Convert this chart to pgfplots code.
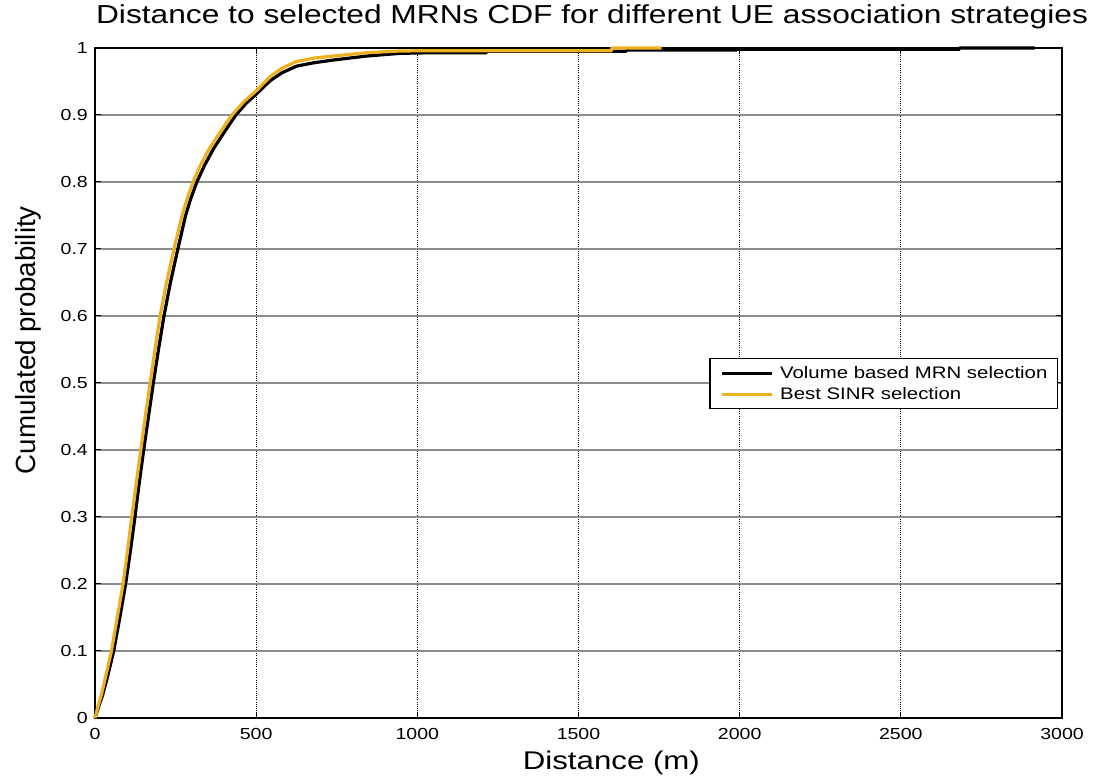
\documentclass[border=0pt]{standalone}
\usepackage{fontspec}
\setmainfont[FakeStretch=1.22]{Liberation Sans}
\newfontfamily\rotsans{Liberation Sans}
\usepackage{pgfplots}
\pgfplotsset{compat=1.18}
\definecolor{sinr}{RGB}{237,177,32}

% Empirical CDF of the distance to the selected MRN, volume based selection
\pgfplotstableread{
d p
0 0
10 0.015
24 0.035
38 0.06
58 0.1
77 0.15
95 0.2
110 0.25
124 0.3
137 0.35
151 0.4
166 0.45
181 0.5
197 0.55
214 0.6
234 0.65
257 0.7
281 0.75
297 0.775
316 0.8
340 0.825
368 0.85
402 0.875
437 0.9
470 0.918
500 0.931
543 0.951
580 0.963
626 0.973
680 0.978
739 0.982
843 0.988
946 0.992
1049 0.993
1215 0.993
1215 0.995
1648 0.995
1648 0.997
1991 0.997
1991 0.998
2682 0.998
2682 1
2915 1
}\volume

% Empirical CDF of the distance to the selected MRN, best SINR selection
\pgfplotstableread{
d p
0 0
8 0.015
20 0.035
32 0.06
51 0.1
69 0.15
87 0.2
101 0.25
114 0.3
128 0.35
142 0.4
156 0.45
171 0.5
186 0.55
202 0.6
222 0.65
245 0.7
270 0.75
286 0.775
304 0.8
327 0.825
355 0.85
389 0.875
425 0.9
462 0.92
500 0.936
543 0.957
580 0.97
626 0.98
680 0.985
739 0.988
843 0.993
946 0.9955
1049 0.996
1603 0.996
1603 1
1758 1
}\bestsinr

\begin{document}
\begin{tikzpicture}[x=1pt,y=1pt]
\useasboundingbox (-95,-60) rectangle (1005,718);
\begin{axis}[
  at={(0,0)}, anchor=south west,
  scale only axis, width=967pt, height=670pt,
  xmin=0, xmax=3000, ymin=0, ymax=1,
  clip=false,
  xtick={0,500,1000,1500,2000,2500,3000},
  ytick={0,0.1,0.2,0.3,0.4,0.5,0.6,0.7,0.8,0.9,1},
  grid=major,
  x grid style={black, line width=0.8pt, dash pattern=on 0.9pt off 1.3pt},
  y grid style={black!45, line width=1.2pt},
  axis line style={black, line width=1.3pt},
  major tick length=6pt,
  tick style={black, line width=1pt},
  tick label style={font=\fontsize{16}{16}\selectfont},
  /pgf/number format/assume math mode=true,
  /pgf/number format/1000 sep={},
  xticklabel style={anchor=base, yshift=-22pt},
  yticklabel style={anchor=east, inner sep=0pt, xshift=-7pt},
  title={Distance to selected MRNs CDF for different UE association strategies},
  title style={at={(axis description cs:0.514,1.0269)}, anchor=base,
    font=\fontsize{26}{26}\selectfont},
  xlabel={Distance (m)},
  xlabel style={at={(axis description cs:0.534,-0.0776)}, anchor=base,
    font=\fontsize{25.6}{25.6}\selectfont},
  ylabel={Cumulated probability},
  ylabel style={at={(axis description cs:-0.0693,0.564)}, anchor=center,
    font=\rotsans\fontsize{27.7}{27.7}\selectfont},
  legend cell align=left,
  legend style={at={(axis description cs:0.9959,0.537)}, anchor=north east,
    draw=black, line width=1.2pt, fill=white,
    font=\fontsize{16.7}{16.7}\selectfont,
    inner xsep=7pt, inner ysep=4.5pt, row sep=1.5pt,
    nodes={inner sep=3pt}},
  legend image code/.code={%
    \path (-3pt,0pt) (54pt,0pt);
    \draw[#1, line width=3pt] (0pt,0pt) -- (50pt,0pt);},
]
\addplot[black, line width=3.2pt, line join=round] table[x=d, y=p] {\volume};
\addlegendentry{Volume based MRN selection}
\addplot[sinr, line width=3.2pt, line join=round] table[x=d, y=p] {\bestsinr};
\addlegendentry{Best SINR selection}
\end{axis}
\end{tikzpicture}
\end{document}
